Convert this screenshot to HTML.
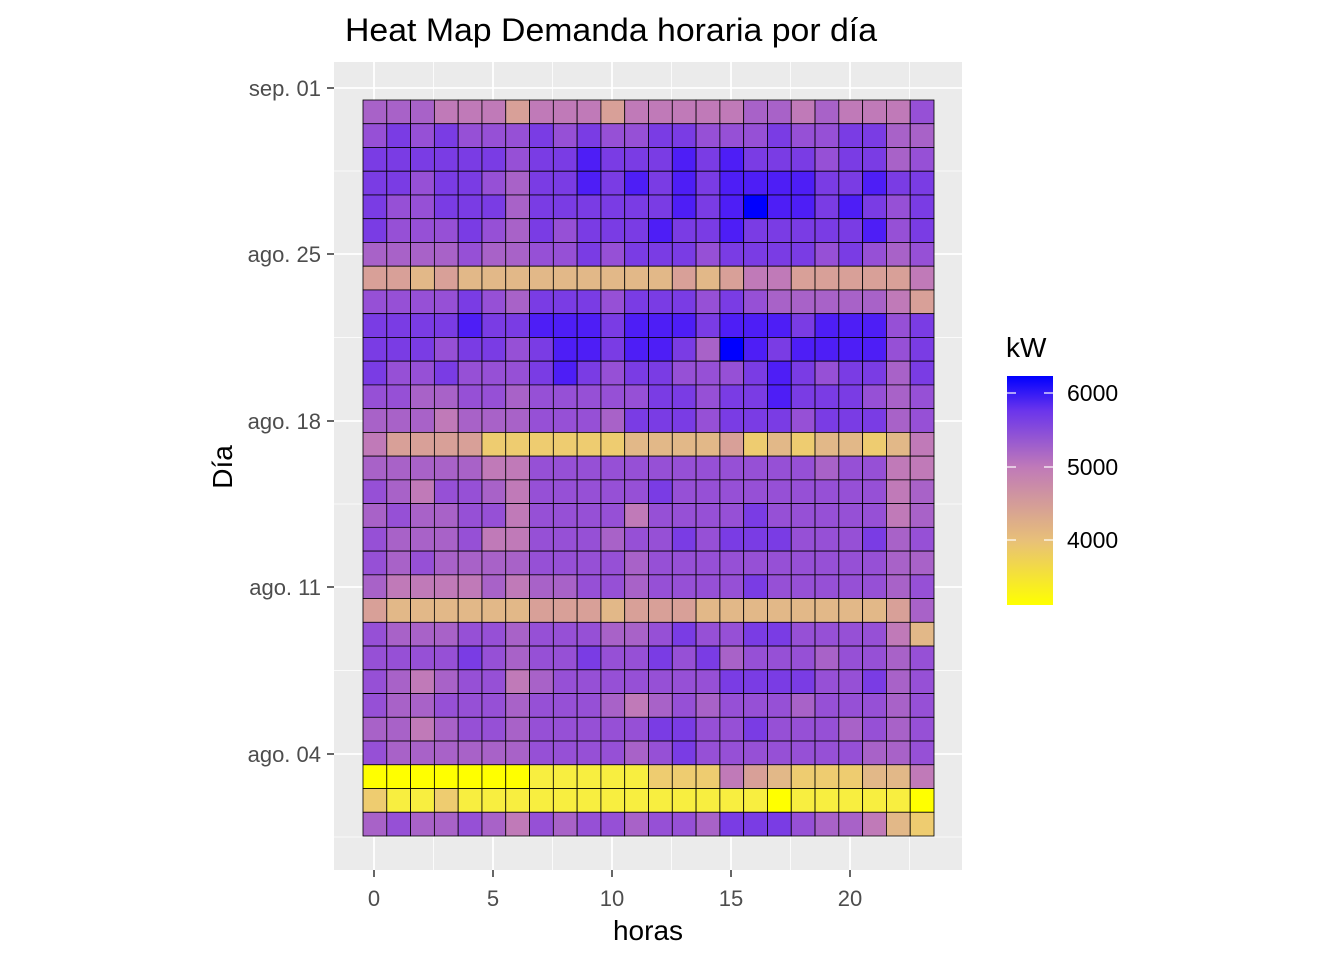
<!DOCTYPE html>
<html><head><meta charset="utf-8"><style>body{margin:0;background:#fff}svg{display:block}</style></head>
<body>
<svg width="1344" height="960" xmlns="http://www.w3.org/2000/svg" font-family="Liberation Sans, Arial, sans-serif">
<defs>
<linearGradient id="cb" x1="0" y1="1" x2="0" y2="0">
<stop offset="0" stop-color="#FFFF00"/>
<stop offset="0.28" stop-color="#E8C078"/>
<stop offset="0.60" stop-color="#C07AB8"/>
<stop offset="0.85" stop-color="#6A34EC"/>
<stop offset="1" stop-color="#0000FF"/>
</linearGradient>
</defs>
<text x="345" y="41" font-size="32" fill="#000" textLength="532" lengthAdjust="spacingAndGlyphs">Heat Map Demanda horaria por día</text>
<rect x="334" y="62" width="628" height="808" fill="#EBEBEB"/>
<g stroke="#fff" stroke-width="0.8">
<line x1="433.5" y1="62" x2="433.5" y2="870"/><line x1="552.5" y1="62" x2="552.5" y2="870"/><line x1="671.5" y1="62" x2="671.5" y2="870"/><line x1="790.5" y1="62" x2="790.5" y2="870"/><line x1="909.5" y1="62" x2="909.5" y2="870"/>
<line x1="334" y1="171" x2="962" y2="171"/><line x1="334" y1="337.5" x2="962" y2="337.5"/><line x1="334" y1="504" x2="962" y2="504"/><line x1="334" y1="670.5" x2="962" y2="670.5"/><line x1="334" y1="837" x2="962" y2="837"/>
</g>
<g stroke="#fff" stroke-width="1.8">
<line x1="374" y1="62" x2="374" y2="870"/><line x1="493" y1="62" x2="493" y2="870"/><line x1="612" y1="62" x2="612" y2="870"/><line x1="731" y1="62" x2="731" y2="870"/><line x1="850" y1="62" x2="850" y2="870"/>
<line x1="334" y1="88" x2="962" y2="88"/><line x1="334" y1="254" x2="962" y2="254"/><line x1="334" y1="421" x2="962" y2="421"/><line x1="334" y1="587" x2="962" y2="587"/><line x1="334" y1="754" x2="962" y2="754"/>
</g>
<g id="tiles" stroke="#000" stroke-width="0.8"></g>
<g stroke="#333" stroke-width="1.5">
<line x1="327" y1="88" x2="334" y2="88"/><line x1="327" y1="254" x2="334" y2="254"/><line x1="327" y1="421" x2="334" y2="421"/><line x1="327" y1="587" x2="334" y2="587"/><line x1="327" y1="754" x2="334" y2="754"/>
<line x1="374" y1="870" x2="374" y2="877"/><line x1="493" y1="870" x2="493" y2="877"/><line x1="612" y1="870" x2="612" y2="877"/><line x1="731" y1="870" x2="731" y2="877"/><line x1="850" y1="870" x2="850" y2="877"/>
</g>
<g font-size="22" fill="#4D4D4D" text-anchor="end">
<text x="321" y="96">sep. 01</text><text x="321" y="262">ago. 25</text><text x="321" y="429">ago. 18</text><text x="321" y="595">ago. 11</text><text x="321" y="762">ago. 04</text>
</g>
<g font-size="22" fill="#4D4D4D" text-anchor="middle">
<text x="374" y="906">0</text><text x="493" y="906">5</text><text x="612" y="906">10</text><text x="731" y="906">15</text><text x="850" y="906">20</text>
</g>
<text x="648" y="940" font-size="28" text-anchor="middle">horas</text>
<text transform="translate(232,467) rotate(-90)" font-size="28" text-anchor="middle">Día</text>
<text x="1006" y="357" font-size="28">kW</text>
<rect x="1007" y="376" width="46" height="229" fill="url(#cb)"/>
<g stroke="#fff" stroke-width="1.2">
<line x1="1007" y1="393" x2="1016" y2="393"/><line x1="1044" y1="393" x2="1053" y2="393"/>
<line x1="1007" y1="467" x2="1016" y2="467"/><line x1="1044" y1="467" x2="1053" y2="467"/>
<line x1="1007" y1="540" x2="1016" y2="540"/><line x1="1044" y1="540" x2="1053" y2="540"/>
</g>
<g font-size="23" fill="#000"><text x="1067" y="401">6000</text><text x="1067" y="475">5000</text><text x="1067" y="548">4000</text></g>
</svg>
<script>
var pal={"0":"#FFFF00","1":"#F8EE40","2":"#EECC70","3":"#E2B888","4":"#D8A098","5":"#C07AB8","6":"#A862C8","7":"#9650D6","8":"#7A3CE4","9":"#4E1EF6","A":"#0000FF"};
var rows=[
"666555455545555566565557","787877787877887778778866","888888788988898988878867","887887688989898999988988",
"8778886888888989A9989878","877787687888988988888978","666676677878887888878767","443433333333343455444445",
"777787688878887876666654","888898899989998999899978","888788789989986A98999978","877877789878877789878868",
"776677677777887889888767","666566677768887888788867","544442222223333423233235","666665577777777777767755",
"765776577777877777777756","676677577775777787777756","766675577767787888777867","767666677776777777777766",
"655556566776777787777767","433333344434443333333346","766677677766787788777753","777787677877878677767767",
"765677567777777888877867","766777677765676777677767","665677677777887787776767","766666677776787777777667",
"000000011111222543222335","211211111111111110111110","676676576776776888766532"];
var g=document.getElementById("tiles"),s="";
var w=571/24,h=736/31;
for(var r=0;r<31;r++)for(var c=0;c<24;c++){
s+='<rect x="'+(363+c*w).toFixed(2)+'" y="'+(100+r*h).toFixed(2)+'" width="'+w.toFixed(2)+'" height="'+h.toFixed(2)+'" fill="'+pal[rows[r][c]]+'"/>';}
g.innerHTML=s;
</script>
</body></html>
